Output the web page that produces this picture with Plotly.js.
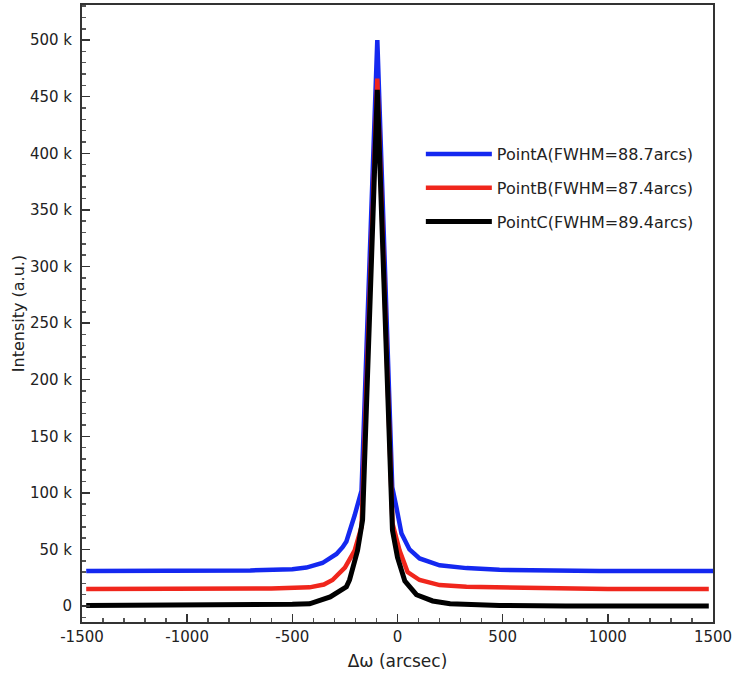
<!DOCTYPE html>
<html>
<head>
<meta charset="utf-8">
<script src="https://cdn.plot.ly/plotly-3.0.1.min.js"></script>
<style>html,body{margin:0;padding:0;background:#fff;}#chart{width:748px;height:678px;}</style>
</head>
<body>
<div id="chart"></div>
<script>
// Point A (blue)
const xA = [-1480, -1000, -700, -500, -433, -357, -323, -290, -261, -243, -204, -171, -96, -25, -5, 19, 57, 105, 200, 328, 485, 960, 1500];
const yA = [31, 31, 31.5, 32.5, 34, 38, 42, 46, 52, 57, 80, 102, 500, 105, 87, 64, 50, 42, 36, 33.5, 32, 31, 31];
// Point B (red)
const xB = [-1480, -1000, -600, -418, -350, -309, -250, -204, -171, -96, -24, 10, 48, 105, 200, 328, 600, 1000, 1480];
const yB = [15, 15, 15.5, 16.5, 19, 23, 34, 49, 70, 466, 73, 49, 30, 23, 18.5, 17, 16, 15, 15];
// Point C (black)
const xC = [-1480, -1000, -700, -500, -418, -320, -243, -228, -190, -166, -96, -24, 0, 35, 90, 167, 250, 485, 800, 1480];
const yC = [0.5, 0.5, 1, 1.5, 2, 8, 17, 23, 49, 76, 456, 67, 43, 22, 10, 4.5, 2, 0.5, 0, 0];

const names = ["PointA(FWHM=88.7arcs)", "PointB(FWHM=87.4arcs)", "PointC(FWHM=89.4arcs)"];
const colors = ["#1428f0", "#f0261c", "#000000"];

const yTickVals = [0, 50, 100, 150, 200, 250, 300, 350, 400, 450, 500];
const yTickText = ["0", "50 k", "100 k", "150 k", "200 k", "250 k", "300 k", "350 k", "400 k", "450 k", "500 k"];
const xTickVals = [-1500, -1000, -500, 0, 500, 1000, 1500];

const k = v => v.map(t => t * 1000);
const traces = [
  {x: xA, y: k(yA), name: names[0], legendgroup: 'a', type: 'scatter', mode: 'lines', line: {color: colors[0], width: 4.5}},
  {x: xB, y: k(yB), name: names[1], legendgroup: 'b', type: 'scatter', mode: 'lines', line: {color: colors[1], width: 4.5}},
  {x: xC, y: k(yC), name: names[2], legendgroup: 'c', type: 'scatter', mode: 'lines', line: {color: colors[2], width: 5}}
];

const font = 'DejaVu Sans, Liberation Sans, Arial, sans-serif';
const layout = {
  width: 748, height: 678,
  margin: {l: 82, r: 35, t: 5, b: 56},
  paper_bgcolor: '#fff', plot_bgcolor: '#fff',
  font: {family: font, color: '#222', size: 15},
  showlegend: true,
  legend: {x: 0.537, y: 0.786, xanchor: 'left', yanchor: 'top', bgcolor: 'rgba(0,0,0,0)',
           font: {size: 16, family: font, color: '#222'}, itemwidth: 66, tracegroupgap: 10},
  xaxis: {
    range: [-1500, 1500], tickvals: xTickVals, ticktext: xTickVals.map(String),
    ticks: 'inside', ticklen: 8, tickwidth: 1.5, tickcolor: '#333',
    minor: {dtick: 100, ticks: 'inside', ticklen: 4, tickcolor: '#555'},
    showline: true, linecolor: '#333', linewidth: 2, mirror: true,
    showgrid: false, zeroline: false,
    tickfont: {size: 15, family: font, color: '#222'},
    title: {text: 'Δω (arcsec)', font: {size: 17, family: font, color: '#222'}, standoff: 10}
  },
  yaxis: {
    range: [-14100, 531000], tickvals: k(yTickVals), ticktext: yTickText,
    ticks: 'inside', ticklen: 8, tickwidth: 1.5, tickcolor: '#333',
    minor: {dtick: 10000, ticks: 'inside', ticklen: 4, tickcolor: '#555'},
    showline: true, linecolor: '#333', linewidth: 2, mirror: true,
    showgrid: false, zeroline: false, ticklabelstandoff: 5,
    tickfont: {size: 15, family: font, color: '#222'},
    title: {text: 'Intensity (a.u.)', font: {size: 16, family: font, color: '#222'}}
  }
};

Plotly.newPlot('chart', traces, layout, {displayModeBar: false, staticPlot: true});
</script>
</body>
</html>
